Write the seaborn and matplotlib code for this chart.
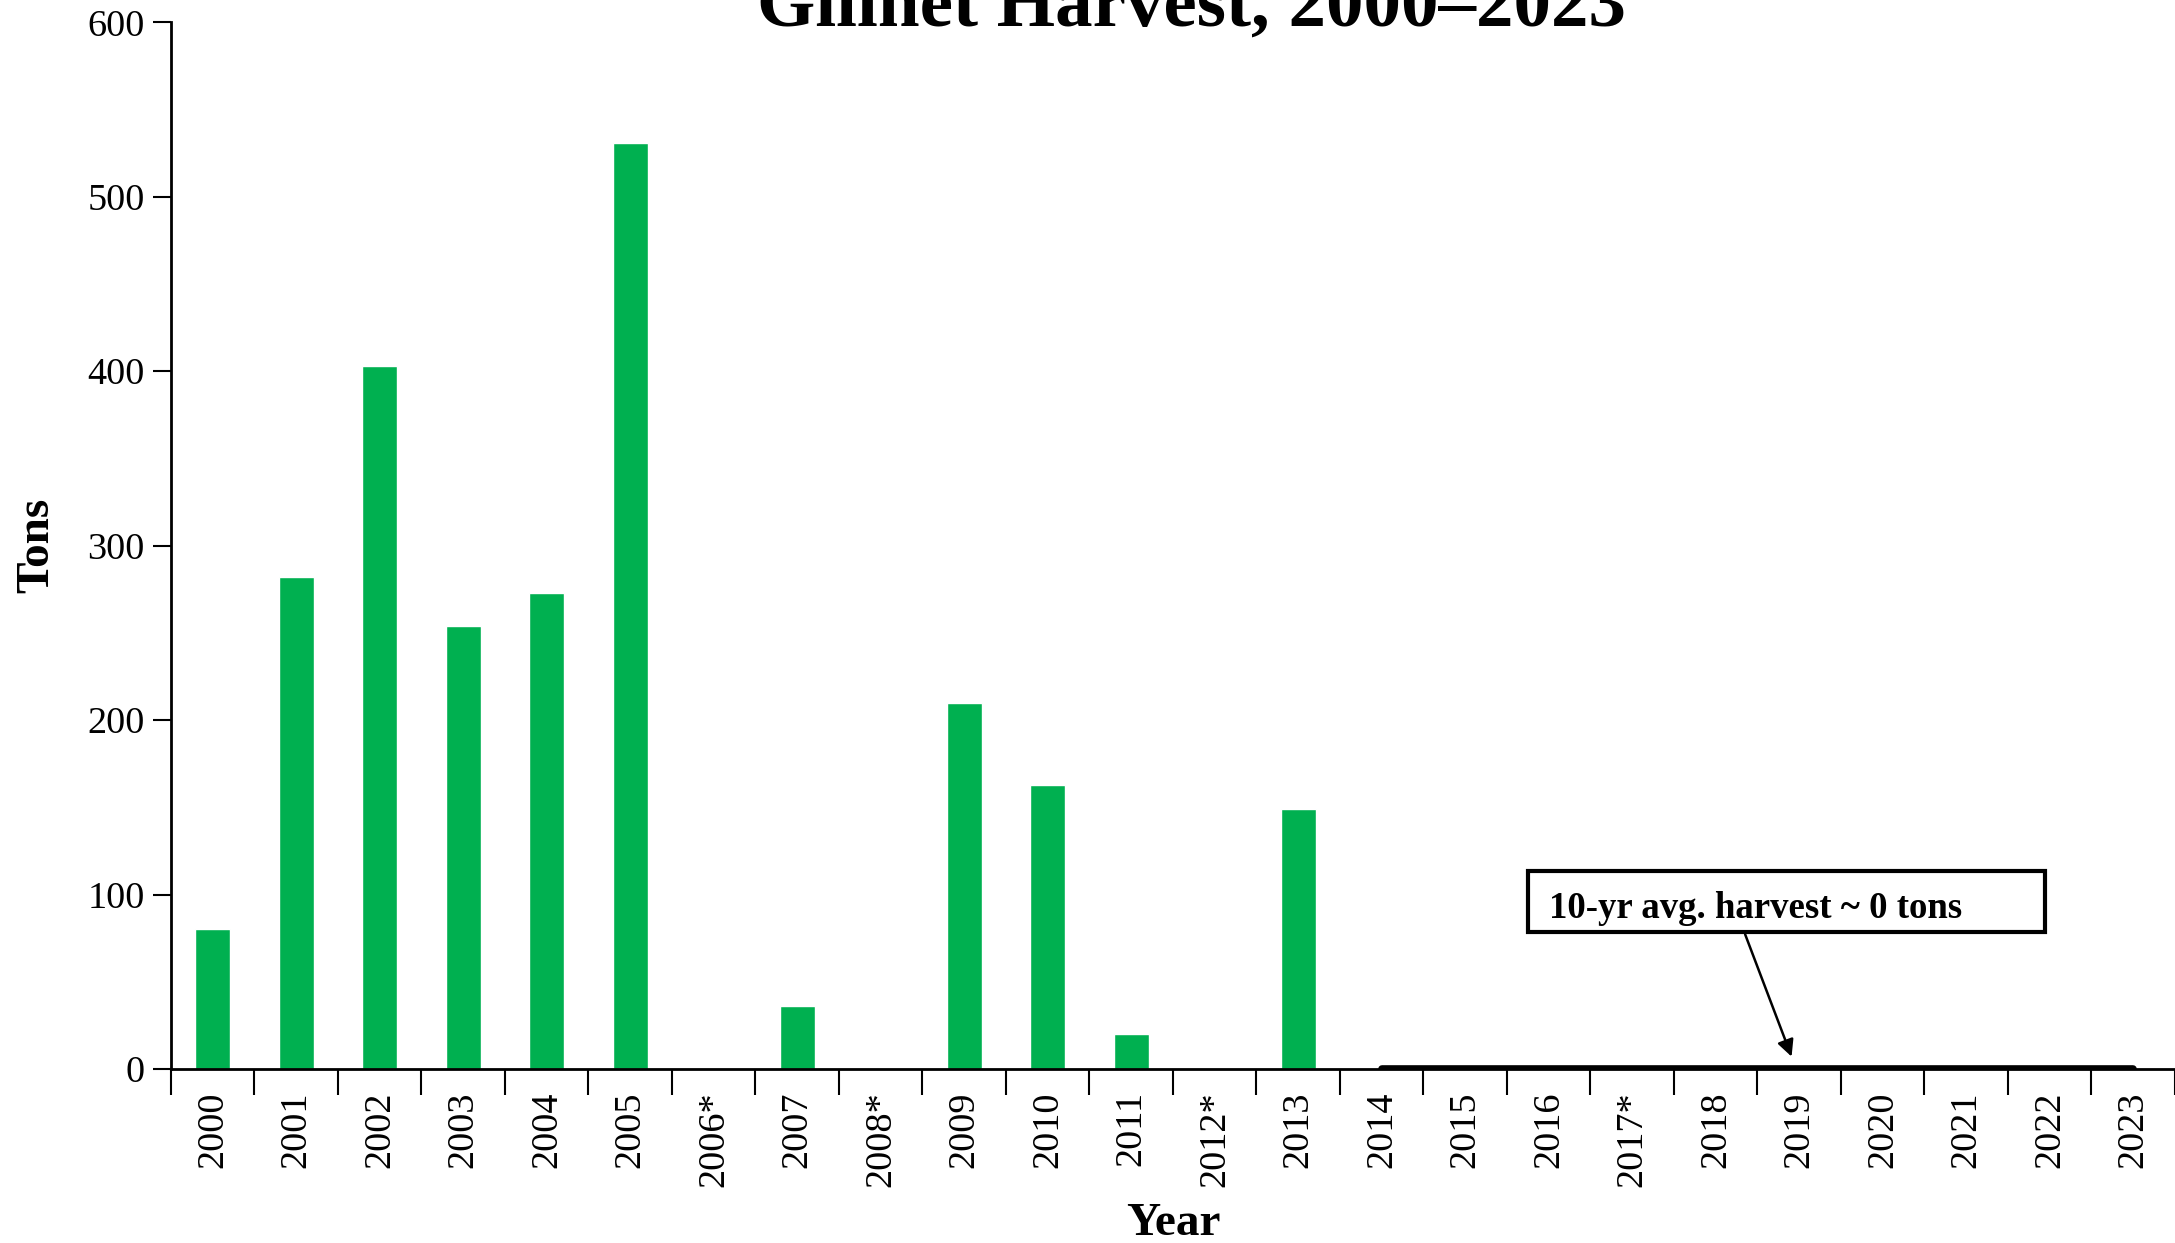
import matplotlib
matplotlib.use("Agg")
import matplotlib.pyplot as plt
import seaborn as sns
import pandas as pd
from matplotlib.patches import Rectangle
from matplotlib.ticker import FixedLocator

years = ["2000", "2001", "2002", "2003", "2004", "2005", "2006*", "2007", "2008*",
         "2009", "2010", "2011", "2012*", "2013", "2014", "2015", "2016", "2017*",
         "2018", "2019", "2020", "2021", "2022", "2023"]
tons = [80, 282, 403, 254, 273, 531, 0, 36, 0, 210, 163, 20, 0, 149,
        0, 0, 0, 0, 0, 0, 0, 0, 0, 0]
avg_years = ["2014", "2015", "2016", "2017*", "2018", "2019", "2020", "2021", "2022", "2023"]
avg_value = 0
title = "Gillnet Harvest, 2000\u20132023"
note = "10-yr avg. harvest ~ 0 tons"

sns.set_theme(style="white")
plt.rcParams["font.family"] = ["Liberation Serif", "DejaVu Serif"]
plt.rcParams["text.color"] = "black"
plt.rcParams["axes.labelcolor"] = "black"
plt.rcParams["xtick.color"] = "black"
plt.rcParams["ytick.color"] = "black"

fig = plt.figure(figsize=(21.75, 12.43), dpi=100)
ax = fig.add_axes([0.0786, 0.140, 0.9214, 0.842])

df = pd.DataFrame({"Year": years, "Tons": tons})
sns.barplot(data=df, x="Year", y="Tons", color="#00B050", saturation=1,
            width=0.42, ax=ax)

# 10-yr average line
xs = [years.index(y) for y in avg_years]
ax.plot([xs[0], xs[-1]], [avg_value, avg_value], color="black", lw=5.5,
        solid_capstyle="round", zorder=5)

ax.set_xlim(-0.5, len(years) - 0.5)
ax.set_ylim(0, 600)
ax.set_yticks(range(0, 601, 100))

for s in ["top", "right"]:
    ax.spines[s].set_visible(False)
for s in ["left", "bottom"]:
    ax.spines[s].set_linewidth(2)
    ax.spines[s].set_color("black")

ax.tick_params(axis="y", which="major", direction="out", length=13, width=1.5,
               labelsize=27.5, color="black", pad=6, left=True)
ax.tick_params(axis="x", which="major", length=0, labelsize=27.5, pad=16,
               labelrotation=90)
ax.xaxis.set_minor_locator(FixedLocator([i - 0.5 for i in range(len(years) + 1)]))
ax.tick_params(axis="x", which="minor", direction="out", length=19, width=1.5,
               color="black", bottom=True)
for lab in ax.get_xticklabels():
    lab.set_va("top")

ax.set_xlabel("Year", fontsize=34, fontweight="bold")
ax.set_ylabel("Tons", fontsize=34, fontweight="bold")
ax.xaxis.set_label_coords(0.5, -0.128)
ax.yaxis.set_label_coords(-0.056, 0.5)

# annotation box
ax.add_patch(Rectangle((15.75, 78.7), 6.19, 34.9, fill=True, facecolor="white",
                       edgecolor="black", lw=3, zorder=6))
ax.text(16.0, 92.0, note, fontsize=26.5, fontweight="bold", va="center",
        ha="left", zorder=7)
ax.annotate("", xy=(18.92, 5.6), xytext=(18.34, 78.7),
            arrowprops=dict(arrowstyle="-|>", color="black", lw=1.8,
                            mutation_scale=25), zorder=7)

fig.text(0.548, 1 - 26 / 1243, title, fontsize=54, fontweight="bold",
         ha="center", va="baseline")

fig.savefig("out.png", dpi=100)
